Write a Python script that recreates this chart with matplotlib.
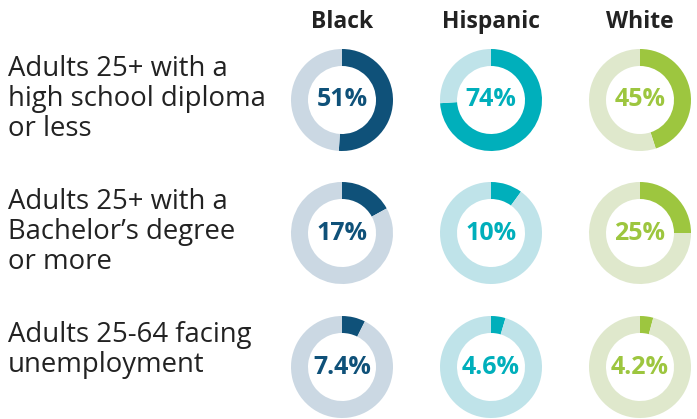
import matplotlib.pyplot as plt

W, H = 697, 419

groups = ["Black", "Hispanic", "White"]
measures = [
    "Adults 25+ with a\nhigh school diploma\nor less",
    "Adults 25+ with a\nBachelor\u2019s degree\nor more",
    "Adults 25-64 facing\nunemployment",
]
# rows = measures, columns = groups
values = [
    [51, 74, 45],
    [17, 10, 25],
    [7.4, 4.6, 4.2],
]
value_labels = [
    ["51%", "74%", "45%"],
    ["17%", "10%", "25%"],
    ["7.4%", "4.6%", "4.2%"],
]

dark = ["#0f5179", "#00afbb", "#9dc63f"]
light = ["#cbd8e3", "#bfe3e9", "#dfe8cc"]

col_x = [342, 491, 640]
row_y = [100, 233, 367]
radius = 51
ring = 17
line_step = 31

plt.rcParams["font.family"] = ["Open Sans", "DejaVu Sans"]

fig = plt.figure(figsize=(W / 100, H / 100), dpi=100)
ax = fig.add_axes([0, 0, 1, 1])

for r, cy in enumerate(row_y):
    for c, cx in enumerate(col_x):
        v = values[r][c]
        ax.pie(
            [v, 100 - v],
            colors=[dark[c], light[c]],
            center=(cx, H - cy),
            radius=radius,
            startangle=90,
            counterclock=False,
            wedgeprops=dict(width=ring, linewidth=0),
        )
        ax.text(cx, H - cy, value_labels[r][c], ha="center", va="center",
                fontsize=18, fontweight="bold", color=dark[c])
    # baseline alignment in matplotlib uses the last line of the block
    n_extra = measures[r].count("\n")
    last_base = cy - 26 + n_extra * line_step
    ax.text(8, H - last_base, measures[r], ha="left", va="baseline",
            fontsize=19.8, color="#222222", linespacing=1.1)

for c, cx in enumerate(col_x):
    ax.text(cx, H - 28, groups[c], ha="center", va="baseline",
            fontsize=16.5, fontweight="bold", color="#222222")

ax.set_xlim(0, W)
ax.set_ylim(0, H)
ax.set_aspect("equal")
ax.axis("off")

fig.savefig("out.png", dpi=100)
